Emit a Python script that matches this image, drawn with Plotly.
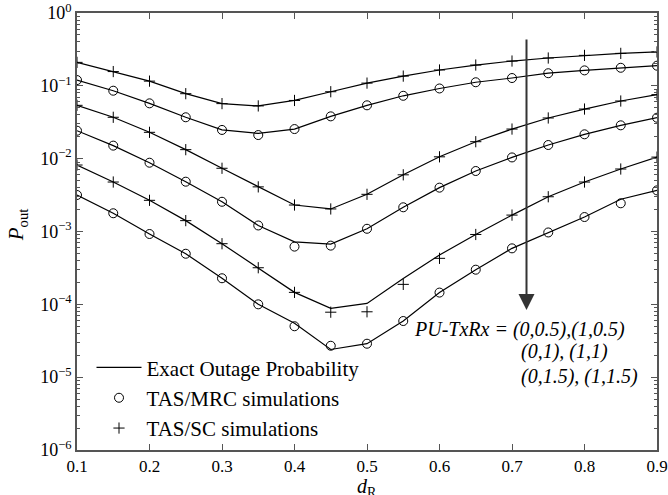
import plotly.graph_objects as go

# ---------------- data ----------------
d_R = [0.1, 0.15, 0.2, 0.25, 0.3, 0.35, 0.4, 0.45, 0.5, 0.55, 0.6, 0.65, 0.7, 0.75, 0.8, 0.85, 0.9]

# exact outage probability curves (top to bottom)
exact_1 = [0.21, 0.157, 0.116, 0.078, 0.057, 0.053, 0.063, 0.083, 0.109, 0.136, 0.165, 0.193, 0.219, 0.241, 0.262, 0.279, 0.292]
exact_2 = [0.12, 0.0857, 0.0575, 0.037, 0.0248, 0.0222, 0.0255, 0.0381, 0.054, 0.073, 0.092, 0.112, 0.128, 0.149, 0.163, 0.177, 0.189]
exact_3 = [0.054, 0.037, 0.023, 0.0133, 0.00738, 0.0041, 0.00231, 0.00204, 0.00324, 0.006, 0.0106, 0.0171, 0.0255, 0.0362, 0.048, 0.0619, 0.0756]
exact_4 = [0.0242, 0.0151, 0.0088, 0.00483, 0.00256, 0.00121, 0.00072, 0.00067, 0.00109, 0.00215, 0.004, 0.00677, 0.0104, 0.0154, 0.0216, 0.0287, 0.0365]
exact_5 = [0.00818, 0.00478, 0.00268, 0.00141, 0.00068, 0.000318, 0.000146, 8.8e-05, 0.000103, 0.000227, 0.000475, 0.00091, 0.00168, 0.003, 0.00478, 0.00721, 0.0105]
exact_6 = [0.00317, 0.00178, 0.000924, 0.000495, 0.000228, 0.0001, 5.5e-05, 2.4e-05, 2.88e-05, 5.9e-05, 0.000145, 0.000299, 0.000587, 0.00097, 0.00158, 0.00277, 0.00367]

# TAS/SC simulations (+)
sc_1 = [0.21, 0.157, 0.116, 0.078, 0.057, 0.053, 0.063, 0.083, 0.109, 0.136, 0.165, 0.193, 0.219, 0.241, 0.262, 0.279, 0.292]
sc_3 = [0.054, 0.037, 0.023, 0.0133, 0.00738, 0.0041, 0.00231, 0.00204, 0.00324, 0.006, 0.0106, 0.0171, 0.0255, 0.0362, 0.048, 0.0619, 0.0756]
sc_5 = [0.00818, 0.00478, 0.00268, 0.00141, 0.00068, 0.000318, 0.000146, 7.8e-05, 7.9e-05, 0.000188, 0.000428, 0.00091, 0.00168, 0.003, 0.00478, 0.00721, 0.0105]

# TAS/MRC simulations (o)
mrc_2 = [0.12, 0.0857, 0.0575, 0.037, 0.0248, 0.0211, 0.0255, 0.0381, 0.054, 0.073, 0.092, 0.112, 0.128, 0.149, 0.163, 0.177, 0.189]
mrc_4 = [0.0242, 0.0151, 0.0088, 0.00483, 0.00256, 0.00121, 0.00062, 0.00064, 0.00109, 0.00215, 0.004, 0.00677, 0.0104, 0.0154, 0.0216, 0.0287, 0.0365]
mrc_6 = [0.00317, 0.00178, 0.000924, 0.000495, 0.000228, 0.0001, 5.0e-05, 2.7e-05, 2.88e-05, 5.9e-05, 0.000145, 0.000299, 0.000587, 0.00097, 0.00158, 0.00244, 0.00367]

y_tickvals = [1e-6, 1e-5, 1e-4, 1e-3, 1e-2, 1e-1, 1]
y_ticktext = ["10<sup>\u22126</sup>", "10<sup>\u22125</sup>", "10<sup>\u22124</sup>",
              "10<sup>\u22123</sup>", "10<sup>\u22122</sup>", "10<sup>\u22121</sup>", "10<sup>0</sup>"]

# ---------------- figure ----------------
FONT = "Liberation Serif"
fig = go.Figure()

for i, ys in enumerate([exact_1, exact_2, exact_3, exact_4, exact_5, exact_6]):
    fig.add_trace(go.Scatter(x=d_R, y=ys, mode="lines",
                             line=dict(color="black", width=1.2),
                             name="Exact Outage Probability",
                             showlegend=(i == 0)))

for i, ys in enumerate([mrc_2, mrc_4, mrc_6]):
    fig.add_trace(go.Scatter(x=d_R, y=ys, mode="markers",
                             marker=dict(symbol="circle-open", size=9, color="black",
                                         line=dict(width=1)),
                             name="TAS/MRC simulations", showlegend=(i == 0)))

for i, ys in enumerate([sc_1, sc_3, sc_5]):
    fig.add_trace(go.Scatter(x=d_R, y=ys, mode="markers",
                             marker=dict(symbol="cross-thin-open", size=8, color="black",
                                         line=dict(width=1, color="black")),
                             name="TAS/SC simulations", showlegend=(i == 0)))

axis_color = "#555555"

fig.update_layout(
    width=668, height=495,
    margin=dict(l=77, r=11, t=13, b=45),
    paper_bgcolor="white", plot_bgcolor="rgba(0,0,0,0)",
    font=dict(family=FONT, size=17, color="black"),
    showlegend=True,
    legend=dict(x=0.025, y=0.235, xanchor="left", yanchor="top",
                bgcolor="rgba(0,0,0,0)", borderwidth=0,
                font=dict(family=FONT, size=21, color="black"),
                tracegroupgap=0, itemwidth=45),
    xaxis=dict(range=[0.1, 0.9], tick0=0.1, dtick=0.1, tickformat=".1f", automargin=False,
               ticks="inside", ticklen=6, tickwidth=1.2, tickcolor=axis_color, showgrid=False, zeroline=False,
               showline=True, linecolor=axis_color, linewidth=1.5, mirror="ticks",
               tickfont=dict(family=FONT, size=17)),
    yaxis=dict(type="log", range=[-6, 0], dtick=1, tickmode="array", tickvals=y_tickvals, ticktext=y_ticktext,
               automargin=False,
               ticks="inside", ticklen=6, tickwidth=1.2, tickcolor=axis_color, showgrid=False, zeroline=False,
               showline=True, linecolor=axis_color, linewidth=1.5, mirror="ticks",
               tickfont=dict(family=FONT, size=18),
               minor=dict(ticks="inside", ticklen=3.5, dtick="D1",
                          tickwidth=1, tickcolor=axis_color, showgrid=False)),
)

# axis titles
fig.add_annotation(text="<i>d</i><sub>R</sub>", xref="paper", yref="paper", x=0.5, y=-0.053,
                   xanchor="center", yanchor="top", showarrow=False,
                   font=dict(family=FONT, size=20, color="black"))
fig.add_annotation(text="<i>P</i><sub>out</sub>", xref="paper", yref="paper", x=-0.103, y=0.515,
                   xanchor="center", yanchor="middle", showarrow=False, textangle=-90,
                   font=dict(family=FONT, size=21, color="black"))

# arrow
fig.add_annotation(x=0.72, y=-4.078, ax=0.72, ay=-0.343, xref="x", yref="y", axref="x", ayref="y",
                   text="", showarrow=True, arrowhead=2, arrowsize=1.6, arrowwidth=2,
                   arrowcolor="#333333")

# text labels
fig.add_annotation(x=0.562, y=-4.343, xref="x", yref="y", xanchor="left", yanchor="middle",
                   text="<i>PU-TxRx = (0,0.5),(1,0.5)</i>", showarrow=False,
                   font=dict(family=FONT, size=20, color="black"))
fig.add_annotation(x=0.7095, y=-4.651, xref="x", yref="y", xanchor="left", yanchor="middle",
                   text="<i>(0,1), (1,1)</i>", showarrow=False,
                   font=dict(family=FONT, size=20, color="black"))
fig.add_annotation(x=0.7095, y=-4.994, xref="x", yref="y", xanchor="left", yanchor="middle",
                   text="<i>(0,1.5), (1,1.5)</i>", showarrow=False,
                   font=dict(family=FONT, size=20, color="black"))

fig.write_html("out.html", config={"displayModeBar": False},
               post_script="document.body.style.margin='0';")
